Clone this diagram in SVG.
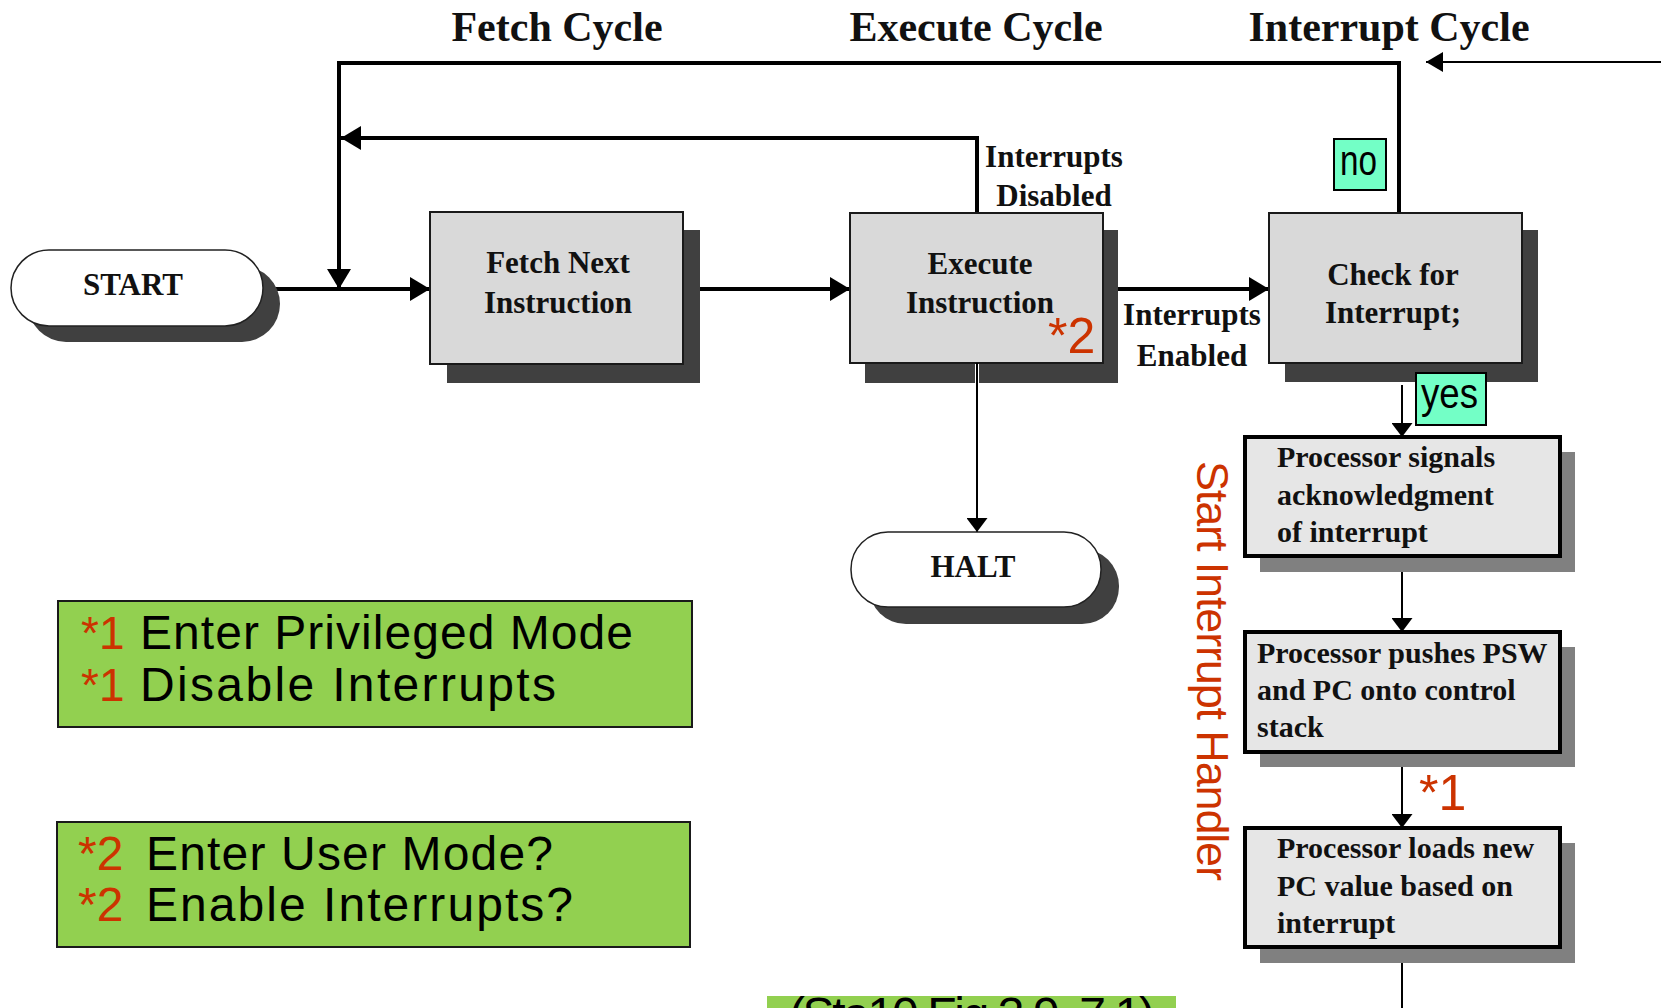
<svg xmlns="http://www.w3.org/2000/svg" width="1661" height="1008" viewBox="0 0 1661 1008">
  <defs>
    <style>
      .hdr{font-family:"Liberation Serif",serif;font-weight:bold;font-size:42px;fill:#111;text-anchor:middle}
      .bt{font-family:"Liberation Serif",serif;font-weight:bold;font-size:31px;fill:#111;text-anchor:middle}
      .pt{font-family:"Liberation Serif",serif;font-weight:bold;font-size:30px;fill:#111}
      .sh1{fill:#404040}
      .sh2{fill:#808080}
      .box1{fill:#d9d9d9;stroke:#1a1a1a;stroke-width:2}
      .box2{fill:#e6e6e6;stroke:#000;stroke-width:4}
      .term{fill:#fff;stroke:#222;stroke-width:1.5}
      .thick{fill:none;stroke:#000;stroke-width:4}
      .thin{fill:none;stroke:#000;stroke-width:2}
      .red{font-family:"Liberation Sans",sans-serif;fill:#cc3300}
      .tag{fill:#73ffc6;stroke:#000;stroke-width:2}
      .tagt{font-family:"Liberation Sans",sans-serif;font-size:42px;fill:#000}
      .note{fill:#92d050;stroke:#1a1a1a;stroke-width:2}
      .nt{font-family:"Liberation Sans",sans-serif;font-size:48px;fill:#000}
    </style>
    <marker id="ah" viewBox="0 0 20 24" refX="20" refY="12" markerWidth="20" markerHeight="24" markerUnits="userSpaceOnUse" orient="auto">
      <path d="M0,0 L20,12 L0,24 z" fill="#000"/>
    </marker>
    <marker id="ahm" viewBox="0 0 17 20" refX="17" refY="10" markerWidth="17" markerHeight="20" markerUnits="userSpaceOnUse" orient="auto">
      <path d="M0,0 L17,10 L0,20 z" fill="#000"/>
    </marker>
    <marker id="ahs" viewBox="0 0 14 21" refX="14" refY="10.5" markerWidth="14" markerHeight="21" markerUnits="userSpaceOnUse" orient="auto">
      <path d="M0,0 L14,10.5 L0,21 z" fill="#000"/>
    </marker>
  </defs>

  <rect width="1661" height="1008" fill="#fff"/>

  <!-- phase headings -->
  <g id="headings">
    <text class="hdr" x="557" y="41">Fetch Cycle</text>
    <text class="hdr" x="976" y="41">Execute Cycle</text>
    <text class="hdr" x="1389" y="41">Interrupt Cycle</text>
  </g>

  <!-- connectors -->
  <g id="connectors">
    <path class="thick" d="M263,289 H430" marker-end="url(#ah)"/>
    <path class="thick" d="M683,289 H850" marker-end="url(#ah)"/>
    <path class="thick" d="M1103,289 H1269" marker-end="url(#ah)"/>
    <path class="thick" d="M1399,213 V63 H339 V289" marker-end="url(#ah)"/>
    <path class="thick" d="M977,213 V138 H341" marker-end="url(#ah)"/>
    <path class="thin" d="M1661,62 H1426" marker-end="url(#ahm)"/>
    <path class="thin" d="M977,383 V532" marker-end="url(#ahs)"/>
    <path class="thin" d="M1402,385 V437" marker-end="url(#ahs)"/>
    <path class="thin" d="M1402,556 V632" marker-end="url(#ahs)"/>
    <path class="thin" d="M1402,752 V828" marker-end="url(#ahs)"/>
    <path class="thin" d="M1402,947 V1008"/>

    <text class="bt" x="1054" y="167">Interrupts</text>
    <text class="bt" x="1054" y="206">Disabled</text>
    <text class="bt" x="1192" y="325">Interrupts</text>
    <text class="bt" x="1192" y="366">Enabled</text>

    <text class="red" font-size="50" x="1419" y="810">*1</text>
  </g>

  <!-- START terminal -->
  <g id="start">
    <rect class="sh1" x="28" y="266" width="252" height="76" rx="38"/>
    <rect class="term" x="11" y="250" width="252" height="76" rx="38"/>
    <text class="bt" x="133" y="295">START</text>
  </g>

  <!-- Fetch Next Instruction -->
  <g id="fetch">
    <rect class="sh1" x="447" y="230" width="253" height="153"/>
    <rect class="box1" x="430" y="212" width="253" height="152"/>
    <text class="bt" x="558" y="273">Fetch Next</text>
    <text class="bt" x="558" y="313">Instruction</text>
  </g>

  <!-- Execute Instruction -->
  <g id="execute">
    <path class="sh1" d="M865,230 H1118 V383 H979 V363 H975 V383 H865 Z"/>
    <rect class="box1" x="850" y="213" width="253" height="150"/>
    <text class="bt" x="980" y="274">Execute</text>
    <text class="bt" x="980" y="313">Instruction</text>
    <text class="red" font-size="50" x="1048" y="353">*2</text>
  </g>
  <path class="thin" d="M977,363 V383"/>

  <!-- Check for Interrupt -->
  <g id="check">
    <rect class="sh1" x="1285" y="230" width="253" height="152"/>
    <rect class="box1" x="1269" y="213" width="253" height="150"/>
    <text class="bt" x="1393" y="285">Check for</text>
    <text class="bt" x="1393" y="323">Interrupt;</text>
  </g>

  <!-- branch tags on the decision -->
  <g id="tag-no">
    <rect class="tag" x="1334" y="139" width="52" height="51"/>
    <text class="tagt" x="1340" y="175" textLength="37" lengthAdjust="spacingAndGlyphs">no</text>
  </g>
  <g id="tag-yes">
    <rect class="tag" x="1416" y="373" width="70" height="52"/>
    <text class="tagt" x="1421" y="408" textLength="57" lengthAdjust="spacingAndGlyphs">yes</text>
  </g>

  <!-- HALT terminal -->
  <g id="halt">
    <rect class="sh1" x="869" y="549" width="250" height="75" rx="37"/>
    <rect class="term" x="851" y="532" width="250" height="75" rx="37"/>
    <text class="bt" x="973" y="577">HALT</text>
  </g>

  <!-- interrupt handler entry steps -->
  <g id="ack">
    <rect class="sh2" x="1260" y="452" width="315" height="120"/>
    <rect class="box2" x="1245" y="437" width="315" height="119"/>
    <text class="pt" x="1277" y="467">Processor signals</text>
    <text class="pt" x="1277" y="505">acknowledgment</text>
    <text class="pt" x="1277" y="542">of interrupt</text>
  </g>

  <g id="push">
    <rect class="sh2" x="1260" y="647" width="315" height="120"/>
    <rect class="box2" x="1245" y="632" width="315" height="120"/>
    <text class="pt" x="1257" y="663">Processor pushes PSW</text>
    <text class="pt" x="1257" y="700">and PC onto control</text>
    <text class="pt" x="1257" y="737">stack</text>
  </g>

  <g id="load">
    <rect class="sh2" x="1260" y="843" width="315" height="120"/>
    <rect class="box2" x="1245" y="828" width="315" height="119"/>
    <text class="pt" x="1277" y="858">Processor loads new</text>
    <text class="pt" x="1277" y="896">PC value based on</text>
    <text class="pt" x="1277" y="933">interrupt</text>
  </g>

  <text class="red" font-size="45" transform="translate(1197,461) rotate(90)" textLength="420">Start Interrupt Handler</text>

  <!-- notes -->
  <g id="note1">
    <rect class="note" x="58" y="601" width="634" height="126"/>
    <text class="red" font-size="46" x="81" y="649">*1</text>
    <text class="nt" x="140" y="649" textLength="493">Enter Privileged Mode</text>
    <text class="red" font-size="46" x="81" y="701">*1</text>
    <text class="nt" x="140" y="701" textLength="416">Disable Interrupts</text>
  </g>

  <g id="note2">
    <rect class="note" x="57" y="822" width="633" height="125"/>
    <text class="red" font-size="48" x="78" y="870">*2</text>
    <text class="nt" x="146" y="870" textLength="407">Enter User Mode?</text>
    <text class="red" font-size="48" x="78" y="921">*2</text>
    <text class="nt" x="146" y="921" textLength="427">Enable Interrupts?</text>
  </g>

  <!-- source reference strip, running off the lower edge -->
  <g id="source">
    <rect x="767" y="996" width="409" height="40" fill="#92d050"/>
    <text class="nt" font-size="42" x="789" y="1031" textLength="366">(Sta10 Fig 3.9, 7.1)</text>
  </g>
</svg>
